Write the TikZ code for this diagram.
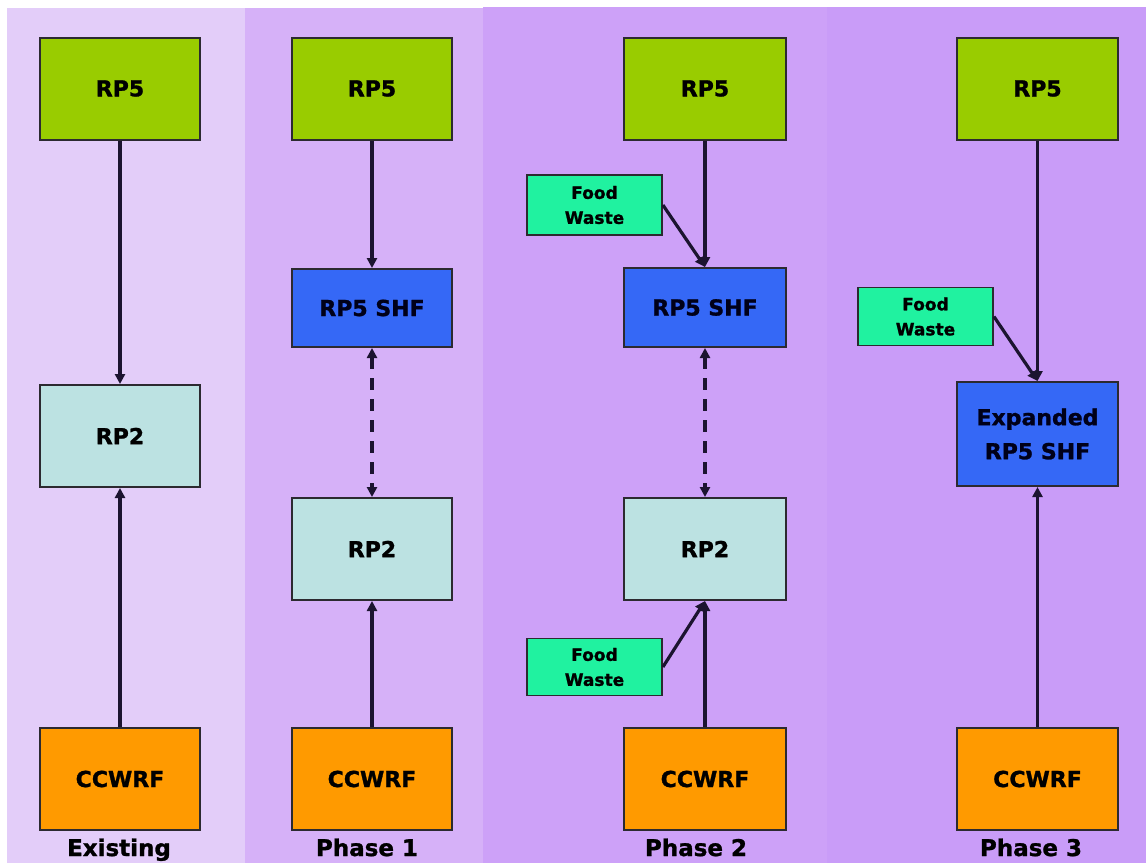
\documentclass[tikz,border=0pt]{standalone}
\usepackage{fontspec}
\setmainfont{DejaVu Sans}[BoldFeatures={FakeBold=1.2}]
\usetikzlibrary{arrows.meta}

% column backgrounds
\definecolor{bgA}{HTML}{E3CDF9}
\definecolor{bgB}{HTML}{D6B1F8}
\definecolor{bgC}{HTML}{CDA1F8}
\definecolor{bgD}{HTML}{C99CF8}
% box fills
\definecolor{rpfive}{HTML}{99CC00}
\definecolor{rptwo}{HTML}{BCE2E2}
\definecolor{shf}{HTML}{3568F6}
\definecolor{ccwrf}{HTML}{FF9A00}
\definecolor{food}{HTML}{20F2A0}
\definecolor{boxline}{HTML}{2C2A30}
\definecolor{wire}{HTML}{1C1430}

\begin{document}
\begin{tikzpicture}[x=1pt,y=-1pt,
  box/.style={draw=boxline, line width=2pt, inner sep=0pt, align=center,
    font=\bfseries\fontsize{22}{34}\selectfont, text=black,
    minimum width=160pt, minimum height=102pt},
  greenbox/.style={box, fill=rpfive},
  rpbox/.style={box, fill=rptwo},
  shfbox/.style={box, fill=shf, text=black!90!blue},
  orangebox/.style={box, fill=ccwrf},
  foodbox/.style={draw=boxline, line width=1.8pt, fill=food, inner sep=0pt,
    align=center, font=\bfseries\fontsize{17}{25}\selectfont,
    minimum width=135pt, minimum height=58pt},
  flow/.style={draw=wire, line width=3.2pt, -{Triangle[length=10pt,width=10pt]}},
  twoway/.style={draw=wire, line width=3.2pt, dash pattern=on 12pt off 9pt,
    {Triangle[length=10pt,width=10pt]}-{Triangle[length=10pt,width=10pt]}},
  phase/.style={font=\bfseries\fontsize{23}{28}\selectfont, anchor=base, inner sep=0pt}
]
\useasboundingbox (0,0) rectangle (1146,863);
\fill[white] (0,0) rectangle (1146,863);

% backgrounds of the four stages
\fill[bgA] (7,8) rectangle (245,863);
\fill[bgB] (245,8) rectangle (483,863);
\fill[bgC] (483,7) rectangle (827,863);
\fill[bgD] (827,7) rectangle (1146,863);

% Existing
\node[greenbox]  (rp5a) at (120,88.5) {RP5};
\node[rpbox]     (rp2a) at (120,436) {RP2};
\node[orangebox] (ccwa) at (120,779) {CCWRF};
\draw[flow] (rp5a.south) -- (rp2a.north);
\draw[flow] (ccwa.north) -- (rp2a.south);
\node[phase] (labA) at (119,856) {Existing};

% Phase 1
\node[greenbox]  (rp5b) at (372,88.5) {RP5};
\node[shfbox, minimum height=78pt] (shfb) at (372,308) {RP5 SHF};
\node[rpbox]     (rp2b) at (372,549) {RP2};
\node[orangebox] (ccwb) at (372,779) {CCWRF};
\draw[flow] (rp5b.south) -- (shfb.north);
\draw[twoway] (shfb.south) -- (rp2b.north);
\draw[flow] (ccwb.north) -- (rp2b.south);
\node[phase] (labB) at (367,856) {Phase 1};

% Phase 2
\node[greenbox, minimum width=162pt]  (rp5c) at (705,88.5) {RP5};
\node[foodbox, minimum height=60pt] (fwc1) at (594.5,205) {Food\\Waste};
\node[shfbox, minimum width=162pt, minimum height=79pt] (shfc) at (705,307.5) {RP5 SHF};
\node[rpbox, minimum width=162pt]     (rp2c) at (705,549) {RP2};
\node[foodbox, minimum height=57pt] (fwc2) at (594.5,667) {Food\\Waste};
\node[orangebox, minimum width=162pt] (ccwc) at (705,779) {CCWRF};
\draw[flow] (rp5c.south) -- (shfc.north);
\draw[flow] (fwc1.east) -- (shfc.north);
\draw[twoway] (shfc.south) -- (rp2c.north);
\draw[flow] (ccwc.north) -- (rp2c.south);
\draw[flow] (fwc2.east) -- (rp2c.south);
\node[phase] (labC) at (696,856) {Phase 2};

% Phase 3
\node[greenbox, minimum width=161pt]  (rp5d) at (1037.5,88.5) {RP5};
\node[foodbox] (fwd) at (925.5,316.5) {Food\\Waste};
\node[shfbox, minimum width=161pt, minimum height=104pt] (expd) at (1037.5,434) {Expanded\\RP5 SHF};
\node[orangebox, minimum width=161pt] (ccwd) at (1037.5,779) {CCWRF};
\draw[flow] (rp5d.south) -- (expd.north);
\draw[flow] (fwd.east) -- (expd.north);
\draw[flow] (ccwd.north) -- (expd.south);
\node[phase] (labD) at (1031,856) {Phase 3};
\end{tikzpicture}
\end{document}
